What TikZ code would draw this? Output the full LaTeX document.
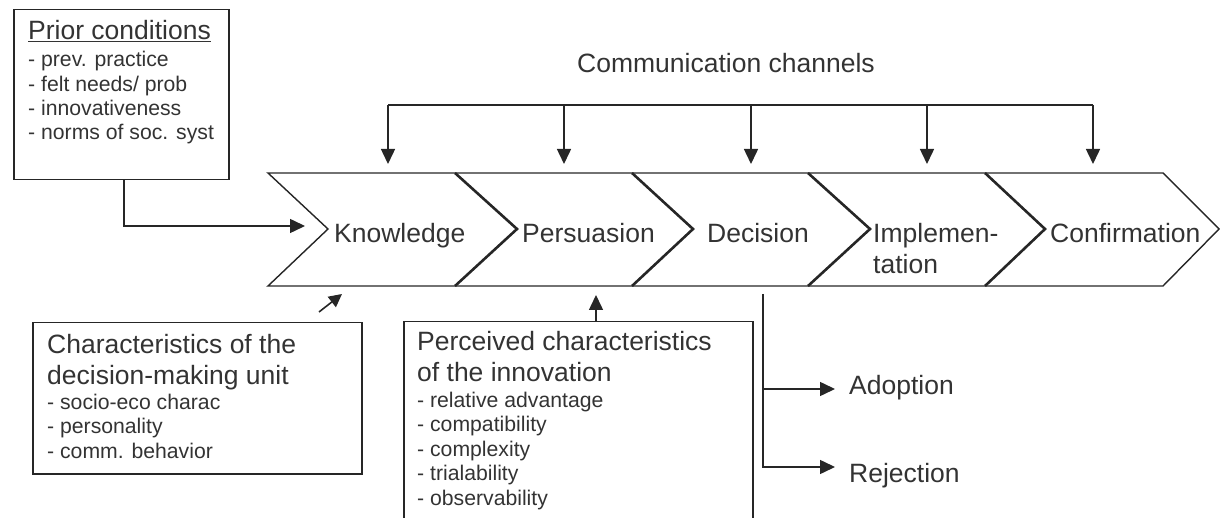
\documentclass[tikz,border=0pt]{standalone}
\usepackage{fontspec}
\setmainfont{Liberation Sans}
\usetikzlibrary{arrows.meta,positioning}
\definecolor{ink}{gray}{0.15}
\definecolor{txt}{gray}{0.2}
\newcommand{\bigtxt}{\fontsize{26.5}{30.5}\selectfont}
\newcommand{\smalltxt}{\fontsize{21.2}{24.4}\selectfont}
\tikzset{
  box/.style={draw=ink, line width=1.5pt, anchor=north west, inner sep=0pt},
  lbl/.style={anchor=base west, inner sep=0pt, text=txt, font=\bigtxt},
  lst/.style={anchor=base west, inner sep=0pt, text=txt, font=\smalltxt, align=left},
  line/.style={draw=ink, line width=1.5pt},
  sep/.style={draw=ink, line width=2.6pt},
  arr/.style={draw=ink, line width=1.5pt, -{Triangle[length=15pt,width=14pt]}},
  smallarr/.style={draw=ink, line width=1.6pt, -{Triangle[length=13pt,width=13pt]}},
}
\begin{document}
\begin{tikzpicture}[x=1pt,y=-1pt]
      \useasboundingbox (0,0) rectangle (1221,518);
      \clip (0,0) rectangle (1221,518);

      % the five stages
      \draw [line, line width=1.4pt] (268,173) -- (1163,173) -- (1219,229) -- (1163,286)
            -- (268,286) -- (328,229) -- cycle;
      \draw [sep] (455,173) -- (517,229) -- (455,286);
      \draw [sep] (632,173) -- (693,229) -- (632,286);
      \draw [sep] (808,173) -- (870,229) -- (808,286);
      \draw [sep] (985,173) -- (1045,229) -- (985,286);

      % multi-line nodes sit on the baseline of their last line
      \node [lbl] (know) at (334,243) {Knowledge};
      \node [lbl] (pers) at (522,243) {Persuasion};
      \node [lbl] (deci) at (707,243) {Decision};
      \node [lbl, align=left] (impl) at (873,273.5) {Implemen-\\tation};
      \node [lbl] (conf) at (1050,243) {Confirmation};

      % communication channels
      \node [lbl] (comm) at (577,73) {Communication channels};
      \draw [line] (388,105) coordinate (chl) -- (1093,105) coordinate (chr);
      \foreach \x/\n in {388/1,564/2,751/3,927/4,1093/5}
            \draw [arr] (\x,105) coordinate (ch\n) -- (\x,164) coordinate (cht\n);

      % prior conditions
      \node [box, minimum width=215pt, minimum height=170pt] (prior) at (13,9) {};
      \node [lbl] (priorhead) at (28,40) {\underline{Prior conditions}};
      \node [lst] (prioritems) at (28,140) {- prev. practice\\- felt needs/ prob\\- innovativeness\\- norms of soc. syst};
      \coordinate (kin) at (305,226);
      \draw [arr] ([xshift=2.5pt]prior.south) |- (kin);

      % decision-making unit
      \node [box, minimum width=329pt, minimum height=151pt] (dmu) at (32,322) {};
      \node [lbl, align=left] (dmuhead) at (47,384.5) {Characteristics of the\\decision-making unit};
      \node [lst] (dmuitems) at (47,458) {- socio-eco charac\\- personality\\- comm. behavior};
      \coordinate (dmutail) at (319,312);
      \coordinate (knowbot) at (342,294);
      \draw [smallarr] (dmutail) -- (knowbot);

      % perceived characteristics
      \node [box, minimum width=349pt, minimum height=230pt] (pci) at (403,321) {};
      \node [lbl, align=left] (pcihead) at (417,381.5) {Perceived characteristics\\of the innovation};
      \node [lst] (pciitems) at (417,505) {- relative advantage\\- compatibility\\- complexity\\- trialability\\- observability};
      \coordinate (persbot) at (596,295);
      \draw [arr] (persbot |- pci.north) -- (persbot);

      % adoption or rejection
      \node [lbl] (adop) at (849,395) {Adoption};
      \node [lbl] (rej) at (849,482) {Rejection};
      \coordinate (dtop) at (763,294);
      \coordinate (dadop) at (763,389);
      \coordinate (drej) at (763,467);
      \draw [arr, shorten >=14pt] (dtop) -- (drej) -- (drej -| rej.west);
      \draw [arr, shorten >=14pt] (dadop) -- (dadop -| adop.west);
\end{tikzpicture}
\end{document}
